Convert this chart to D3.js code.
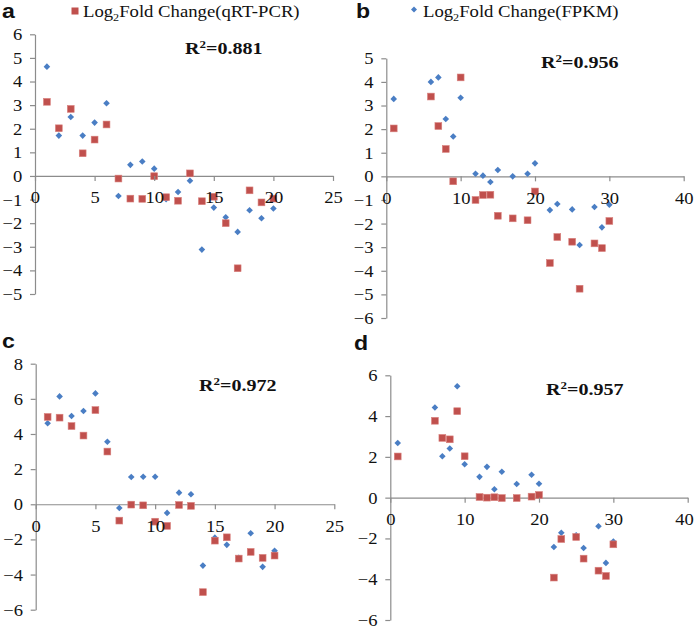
<!DOCTYPE html>
<html><head><meta charset="utf-8">
<script src="https://cdn.jsdelivr.net/npm/d3@7"></script>
<style>html,body{margin:0;padding:0;background:#fff;}svg{display:block;}</style>
</head><body>
<svg id="chart" width="694" height="629"></svg>
<script>
// ---------- DATA ----------
const xA = [1,2,3,4,5,6,7,8,9,10,11,12,13,14,15,16,17,18,19,20];
const qpcrA = [3.14,2.02,2.84,0.96,1.54,2.18,-0.11,-0.96,-0.97,-0.01,-0.90,-1.05,0.11,-1.07,-0.88,-2.0,-3.91,-0.61,-1.12,-0.96];
const fpkmA = [4.63,1.71,2.50,1.71,2.26,3.08,-0.85,0.47,0.61,0.31,-0.98,-0.68,-0.20,-3.12,-1.34,-1.75,-2.37,-1.45,-1.79,-1.38];

const xB = [1,6,7,8,9,10,12,13,14,15,17,19,20,22,23,25,26,28,29,30];
const qpcrB = [2.03,3.38,2.13,1.16,-0.21,4.19,-1.0,-0.79,-0.78,-1.67,-1.78,-1.86,-0.64,-3.67,-2.57,-2.77,-4.76,-2.84,-3.04,-1.89];
const fpkmB = [3.28,4.0,4.19,2.43,1.69,3.33,0.11,0.03,-0.24,0.27,0.0,0.11,0.55,-1.43,-1.17,-1.40,-2.91,-1.30,-2.16,-1.20];

const xC = [1,2,3,4,5,6,7,8,9,10,11,12,13,14,15,16,17,18,19,20];
const qpcrC = [4.97,4.93,4.45,3.91,5.36,3.0,-0.93,-0.02,-0.06,-0.99,-1.23,-0.04,-0.09,-5.0,-2.07,-1.88,-3.09,-2.71,-3.05,-2.92];
const fpkmC = [4.61,6.14,5.02,5.31,6.31,3.56,-0.21,1.55,1.57,1.57,-0.49,0.66,0.57,-3.49,-1.9,-2.31,-3.05,-1.65,-3.56,-2.65];

const xD = [1,6,7,8,9,10,12,13,14,15,17,19,20,22,23,25,26,28,29,30];
const qpcrD = [2.02,3.77,2.93,2.86,4.24,2.03,0.03,0.0,0.02,-0.02,-0.02,0.05,0.13,-3.92,-2.03,-1.93,-2.99,-3.58,-3.84,-2.29];
const fpkmD = [2.68,4.42,2.03,2.41,5.46,1.64,1.02,1.51,0.41,1.27,0.67,1.12,0.68,-2.42,-1.72,-1.85,-2.47,-1.40,-3.2,-2.15];

const panelLetters = ["a","b","c","d"];
const r2Labels = ["0.881","0.956","0.972","0.957"];
const legendQ = "Fold Change(qRT-PCR)";
const legendF = "Fold Change(FPKM)";

const yTicksA = [-5,-4,-3,-2,-1,0,1,2,3,4,5,6];
const yTicksB = [-6,-5,-4,-3,-2,-1,0,1,2,3,4,5];
const yTicksC = [-6,-4,-2,0,2,4,6,8];
const yTicksD = [-6,-4,-2,0,2,4,6];
const xTicks25 = [0,5,10,15,20,25];
const xTicks40 = [0,10,20,30,40];

// ---------- STYLE ----------
const RED = "#C0504D", BLUE = "#4A7EC4", AXIS = "#8c8c8c";
const SERIF = "'Liberation Serif','Times New Roman',serif";
const SANS = "'Liberation Sans',Arial,sans-serif";
const SX = 1.16;

const panels = [
  {x: xA, q: qpcrA, f: fpkmA, xDom:[0,25], yDom:[-5,6], xR:[35,333], yR:[294,34.3], xt:xTicks25, yt:yTicksA,
   letter:[2,18], r2:[185,54]},
  {x: xB, q: qpcrB, f: fpkmB, xDom:[0,40], yDom:[-6,5], xR:[386.3,683.7], yR:[318,58.3], xt:xTicks40, yt:yTicksB,
   letter:[356,18], r2:[541,67.5]},
  {x: xC, q: qpcrC, f: fpkmC, xDom:[0,25], yDom:[-6,8], xR:[35.7,334.3], yR:[609.7,363.7], xt:xTicks25, yt:yTicksC,
   letter:[2,348], r2:[199,391]},
  {x: xD, q: qpcrD, f: fpkmD, xDom:[0,40], yDom:[-6,6], xR:[390.3,687.7], yR:[620,375.3], xt:xTicks40, yt:yTicksD,
   letter:[354,350], r2:[546,395]}
];

const svg = d3.select("#chart");

function styleTicks(g){
  g.select(".domain").attr("stroke", AXIS).attr("stroke-width",1.2);
  g.selectAll(".tick line").attr("stroke", AXIS).attr("stroke-width",1.2);
  g.selectAll(".tick text").attr("fill","#111").attr("font-family",SERIF).attr("font-size",16)
    .attr("transform",`scale(${SX},1)`);
}

// diamond path (square rotated 45 degrees)
function diamondPath(r){ return `M0,${-r}L${r},0L0,${r}L${-r},0Z`; }

panels.forEach((p,i)=>{
  const xs = d3.scaleLinear().domain(p.xDom).range(p.xR);
  const ys = d3.scaleLinear().domain(p.yDom).range(p.yR);
  const g = svg.append("g");

  // axes
  const yAxisG = g.append("g").attr("transform",`translate(${xs(0)},0)`)
    .call(d3.axisLeft(ys).tickValues(p.yt).tickFormat(d3.format("d")).tickSize(5).tickPadding(6).tickSizeOuter(0));
  const xAxisG = g.append("g").attr("transform",`translate(0,${ys(0)})`)
    .call(d3.axisBottom(xs).tickValues(p.xt).tickFormat(d3.format("d")).tickSize(5).tickPadding(11).tickSizeOuter(0));
  yAxisG.call(styleTicks); xAxisG.call(styleTicks);
  yAxisG.selectAll(".tick text").attr("dy","0.34em");
  xAxisG.selectAll(".tick text").attr("text-anchor","middle")
    .attr("dx", d => (xs(d) + 10 > 694 ? -(xs(d) + 10 - 694) / SX : 0));

  // points: FPKM diamonds then qPCR squares
  g.append("g").selectAll("path").data(p.x.map((x,j)=>[x,p.f[j]])).join("path")
    .attr("d", diamondPath(3.3)).attr("transform", d=>`translate(${xs(d[0])},${ys(d[1])})`)
    .attr("fill", BLUE);
  g.append("g").selectAll("rect").data(p.x.map((x,j)=>[x,p.q[j]])).join("rect")
    .attr("x", d=>xs(d[0])-3.4).attr("y", d=>ys(d[1])-3.4).attr("width",6.8).attr("height",6.8)
    .attr("fill", RED).attr("stroke","#d9807d").attr("stroke-width",0.6);

  // move x-axis tick labels on top of markers
  const over = g.append("g").attr("transform",`translate(0,${ys(0)})`).attr("text-anchor","middle");
  xAxisG.selectAll(".tick").each(function(){ over.node().appendChild(this); });

  // panel letter
  g.append("text").attr("transform",`translate(${p.letter[0]},${p.letter[1]}) scale(1.1,1)`)
    .attr("font-family",SANS).attr("font-weight","bold").attr("font-size",21).attr("fill","#111")
    .text(panelLetters[i]);

  // R2 label
  const t = g.append("text").attr("transform",`translate(${p.r2[0]},${p.r2[1]}) scale(1.18,1)`)
    .attr("font-family",SERIF).attr("font-weight","bold").attr("font-size",17).attr("fill","#111");
  t.append("tspan").text("R");
  t.append("tspan").attr("font-size",11).attr("dy",-6).text("2");
  t.append("tspan").attr("dy",6).text("=" + r2Labels[i]);
});

// legends
function legendText(x, y, rest){
  const t = svg.append("text").attr("transform",`translate(${x},${y}) scale(1.1,1)`)
    .attr("font-family",SERIF).attr("font-size",17).attr("fill","#111");
  t.append("tspan").text("Log");
  t.append("tspan").attr("font-size",11).attr("dy",4).text("2");
  t.append("tspan").attr("dy",-4).text(rest);
}
svg.append("rect").attr("x",71.5).attr("y",7.5).attr("width",7).attr("height",7).attr("fill",RED);
legendText(83, 17, legendQ);
svg.append("path").attr("d", diamondPath(3)).attr("transform","translate(414,9.5)").attr("fill",BLUE);
legendText(423, 17, legendF);
</script>
</body></html>
